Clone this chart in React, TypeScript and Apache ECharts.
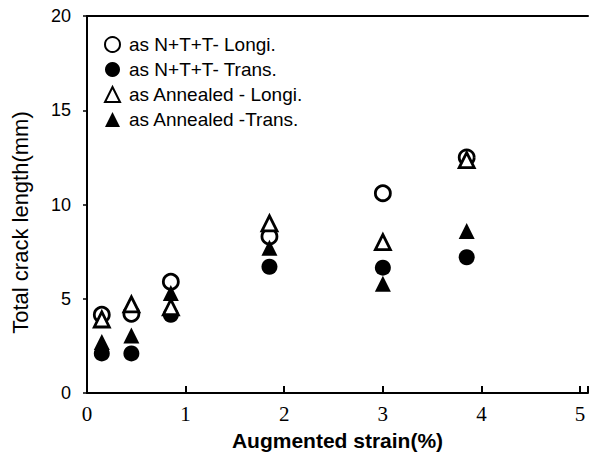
import React, { useEffect, useRef } from "react";
import * as echarts from "echarts";

const strain = [0.15, 0.45, 0.85, 1.85, 3.0, 3.85];
const ntt_longi = [4.15, 4.2, 5.9, 8.3, 10.6, 12.5];
const ntt_trans = [2.1, 2.1, 4.15, 6.7, 6.65, 7.2];
const ann_longi = [3.9, 4.7, 4.55, 9.0, 8.0, 12.35];
const ann_trans = [2.7, 3.05, 5.3, 7.7, 5.8, 8.6];

const seriesNames = [
  "as N+T+T- Longi.",
  "as N+T+T- Trans.",
  "as Annealed - Longi.",
  "as Annealed -Trans.",
];

const pair = (ys: number[]) => strain.map((x, i) => [x, ys[i]]);

export default function App() {
  const ref = useRef<HTMLDivElement>(null);
  useEffect(() => {
    document.body.style.margin = "0";
    const chart = echarts.init(ref.current!, undefined, { renderer: "svg" });
    const open = { color: "#fff", borderColor: "#000", borderWidth: 2.8, opacity: 1 };
    const filled = { color: "#000", borderColor: "#000", borderWidth: 0, opacity: 1 };
    const mk = (name: string, ys: number[], symbol: string, style: any, size: number) => ({
      name,
      type: "scatter",
      data: pair(ys),
      symbol,
      symbolSize: size,
      itemStyle: style,
      emphasis: { disabled: true },
    });
    chart.setOption({
      animation: false,
      grid: { left: 87, right: 0, top: 16, bottom: 63, containLabel: false },
      legend: {
        orient: "vertical",
        left: 99,
        top: 30,
        itemWidth: 15,
        itemHeight: 15,
        itemGap: 6,
        textStyle: {
          fontFamily: "Liberation Sans",
          fontSize: 19,
          lineHeight: 18,
          color: "#000",
          padding: [0, 0, 0, 4],
        },
        data: seriesNames,
      },
      xAxis: [
        {
          type: "value",
          min: 0,
          max: 5.08,
          interval: 1,
          name: "Augmented strain(%)",
          nameLocation: "middle",
          nameGap: 37,
          nameTextStyle: {
            fontFamily: "Liberation Sans",
            fontSize: 21,
            fontWeight: "bold",
            color: "#000",
          },
          splitLine: { show: false },
          axisLine: { lineStyle: { color: "#000", width: 2 } },
          axisTick: { inside: true, length: 7, lineStyle: { color: "#000", width: 2 } },
          axisLabel: {
            margin: 10,
            fontFamily: "Liberation Serif",
            fontSize: 21,
            color: "#000",
            formatter: (v: number) => (Number.isInteger(v) ? String(v) : ""),
          },
        },
        {
          type: "value",
          position: "top",
          min: 0,
          max: 5.08,
          axisLine: { show: true, onZero: false, lineStyle: { color: "#000", width: 2 } },
          axisTick: { show: false },
          axisLabel: { show: false },
          splitLine: { show: false },
        },
      ],
      yAxis: {
        type: "value",
        min: 0,
        max: 20,
        interval: 5,
        name: "Total crack length(mm)",
        nameLocation: "middle",
        nameGap: 56,
        nameTextStyle: {
          fontFamily: "Liberation Sans",
          fontSize: 22,
          color: "#000",
          padding: [0, 36, 0, 0],
        },
        splitLine: { show: false },
        axisLine: { show: true, lineStyle: { color: "#000", width: 2 } },
        axisTick: { show: true, length: 4, lineStyle: { color: "#000", width: 1.5 } },
        axisLabel: {
          margin: 16,
          fontFamily: "Liberation Sans",
          fontSize: 18,
          color: "#000",
        },
      },
      series: [
        mk(seriesNames[0], ntt_longi, "circle", open, 15),
        mk(seriesNames[1], ntt_trans, "circle", filled, 16),
        mk(seriesNames[2], ann_longi, "triangle", open, 15),
        mk(seriesNames[3], ann_trans, "triangle", filled, 16),
      ],
    });
    return () => chart.dispose();
  }, []);
  return <div ref={ref} style={{ width: 591, height: 456 }} />;
}
